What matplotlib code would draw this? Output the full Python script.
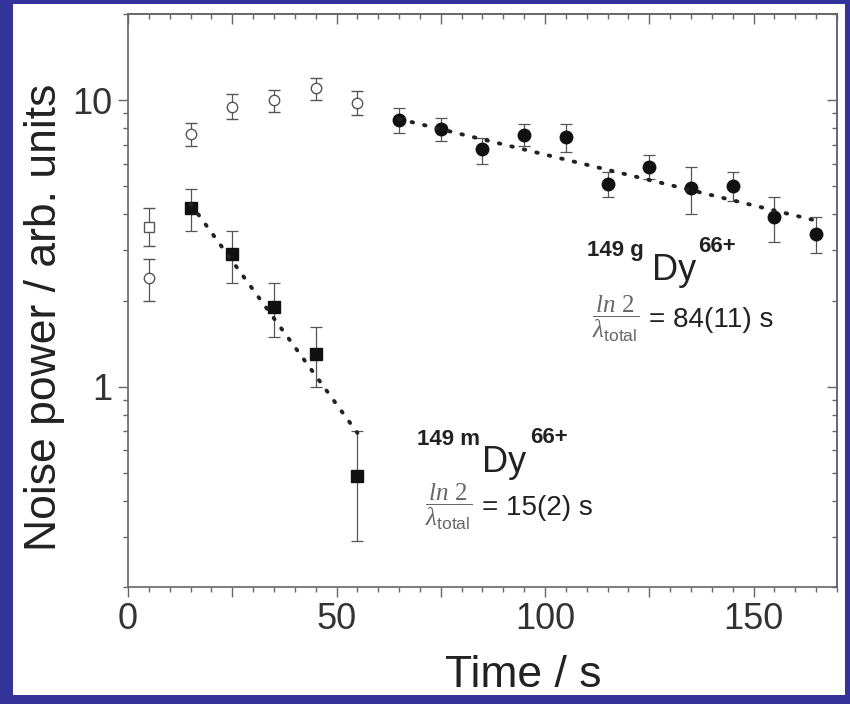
import matplotlib
matplotlib.use("Agg")
import matplotlib.pyplot as plt
from matplotlib.patches import Rectangle
from matplotlib.ticker import MultipleLocator, FixedLocator, LogLocator, FuncFormatter, NullFormatter
import numpy as np

plt.rcParams['font.family'] = ['Liberation Sans', 'DejaVu Sans']
plt.rcParams['mathtext.rm'] = 'Liberation Serif'
plt.rcParams['mathtext.it'] = 'Liberation Serif:italic'
plt.rcParams['mathtext.sf'] = 'Liberation Sans'

# open square (t = 5 s)
t_open_sq = [5]
y_open_sq = [3.6]
lo_open_sq = [3.1]
hi_open_sq = [4.2]

# open circles (build-up)
t_open_c = [5, 15, 25, 35, 45, 55]
y_open_c = [2.4, 7.6, 9.5, 10.0, 11.0, 9.8]
lo_open_c = [2.0, 6.9, 8.6, 9.1, 10.0, 8.9]
hi_open_c = [2.8, 8.3, 10.5, 10.9, 12.0, 10.75]

# 149m Dy66+ (filled squares)
t_m = [15, 25, 35, 45, 55]
y_m = [4.2, 2.9, 1.9, 1.3, 0.49]
lo_m = [3.5, 2.3, 1.49, 1.0, 0.29]
hi_m = [4.9, 3.5, 2.3, 1.61, 0.70]

# 149g Dy66+ (filled circles)
t_g = [65, 75, 85, 95, 105, 115, 125, 135, 145, 155, 165]
y_g = [8.5, 7.93, 6.75, 7.55, 7.43, 5.1, 5.85, 4.93, 5.01, 3.91, 3.41]
lo_g = [7.67, 7.2, 6.0, 6.9, 6.6, 4.6, 5.3, 4.0, 4.45, 3.2, 2.93]
hi_g = [9.4, 8.65, 7.4, 8.25, 8.25, 5.6, 6.45, 5.85, 5.6, 4.6, 3.9]

# exponential fits (straight on log axis), end points
fit_m_t = [15, 55]
fit_m_y = [4.35, 0.69]
fit_g_t = [65, 165]
fit_g_y = [8.6, 3.8]

W, H = 850, 704
fig = plt.figure(figsize=(W / 100, H / 100), dpi=100, facecolor='#333399')
fig.add_artist(Rectangle((13 / W, 1 - 695 / H), (845 - 13) / W, (695 - 4) / H,
                         transform=fig.transFigure, facecolor='white', edgecolor='none', zorder=0))

ax = fig.add_axes([128 / W, 1 - 587 / H, (837 - 128) / W, (587 - 14) / H])
ax.set_facecolor('white')


def fxy(px, py):
    return px / W, 1 - py / H


def err(y, lo, hi):
    return [np.subtract(y, lo), np.subtract(hi, y)]


eb = dict(ecolor='#555555', elinewidth=0.9, capsize=4.5, capthick=0.9, linestyle='none')

ax.errorbar(t_open_sq, y_open_sq, yerr=err(y_open_sq, lo_open_sq, hi_open_sq), marker='s', ms=7,
            mfc='white', mec='#555555', mew=1, **eb)
ax.errorbar(t_open_c, y_open_c, yerr=err(y_open_c, lo_open_c, hi_open_c), marker='o', ms=7.5,
            mfc='white', mec='#555555', mew=1, **eb)
ax.errorbar(t_m, y_m, yerr=err(y_m, lo_m, hi_m), marker='s', ms=8.5,
            mfc='#111111', mec='#111111', **eb)
ax.errorbar(t_g, y_g, yerr=err(y_g, lo_g, hi_g), marker='o', ms=9,
            mfc='#111111', mec='#111111', **eb)

for ft, fy in [(fit_m_t, fit_m_y), (fit_g_t, fit_g_y)]:
    ax.plot(ft, fy, color='#222222', lw=2.8, linestyle=(0, (0.4, 2.9)),
            dash_capstyle='round', zorder=3)

ax.set_xlim(0, 170)
ax.set_yscale('log')
ax.set_ylim(0.2, 20)

ax.xaxis.set_major_locator(MultipleLocator(25))
ax.xaxis.set_minor_locator(MultipleLocator(5))
ax.xaxis.set_major_formatter(FuncFormatter(lambda v, p: f'{v:.0f}' if v % 50 == 0 else ''))
ax.yaxis.set_major_locator(FixedLocator([1, 10]))
ax.yaxis.set_minor_locator(LogLocator(subs=np.arange(2, 10)))
ax.yaxis.set_major_formatter(FuncFormatter(lambda v, p: f'{v:g}'))
ax.yaxis.set_minor_formatter(NullFormatter())

ax.tick_params(which='both', direction='out', color='#666666', width=1,
               labelsize=26, labelcolor='#333333', top=False, right=False)
ax.tick_params(which='major', length=7, pad=4)
ax.tick_params(which='minor', length=3.5)
for s in ax.spines.values():
    s.set_color('#666666')
    s.set_linewidth(1.2)

# mirrored axes with inward ticks
sx = ax.secondary_xaxis('top')
sx.xaxis.set_major_locator(MultipleLocator(25))
sx.xaxis.set_minor_locator(MultipleLocator(5))
sx.tick_params(which='both', direction='in', color='#666666', width=1, labeltop=False)
sx.tick_params(which='major', length=7)
sx.tick_params(which='minor', length=3.5)
sx.spines['top'].set_color('#666666')
sx.spines['top'].set_linewidth(1.2)

sy = ax.secondary_yaxis('right')
sy.yaxis.set_major_locator(FixedLocator([1, 10]))
sy.yaxis.set_minor_locator(LogLocator(subs=np.arange(2, 10)))
sy.yaxis.set_minor_formatter(NullFormatter())
sy.tick_params(which='both', direction='in', color='#666666', width=1, labelright=False)
sy.tick_params(which='major', length=7)
sy.tick_params(which='minor', length=3.5)
sy.spines['right'].set_color('#666666')
sy.spines['right'].set_linewidth(1.2)

ax.set_xlabel('Time / s', fontsize=32, color='#222222', va='center')
ax.xaxis.set_label_coords(0.557, -0.154)
ax.set_ylabel('Noise power / arb. units', fontsize=32, color='#222222', va='center')
ax.yaxis.set_label_coords(-0.118, 0.47)

# isotope labels
frac = r'$\dfrac{\mathit{ln\ 2}}{\lambda_{\mathsf{total}}}$'
for (x0, yb), iso, dy_dx, dy_b, sup_dx, sup_b, fc, eq in [
        ((417, 445), '149 m', 65, 472, 113, 443, (449, 507), '= 15(2) s'),
        ((587, 256), '149 g', 65, 280, 111, 252, (616, 319), '= 84(11) s')]:
    fig.text(*fxy(x0, yb), iso, fontsize=16, fontweight='bold', color='#222222', va='baseline')
    fig.text(*fxy(x0 + dy_dx, dy_b), 'Dy', fontsize=26, color='#222222', va='baseline')
    fig.text(*fxy(x0 + sup_dx, sup_b), '66+', fontsize=16, fontweight='bold', color='#222222', va='baseline')
    fig.text(*fxy(*fc), frac, fontsize=18, math_fontfamily='custom', color='#666666',
             ha='center', va='center')
    fig.text(*fxy(fc[0] + 33, fc[1] + 1), eq, fontsize=20, color='#222222', va='center')

fig.savefig('out.png', dpi=100, facecolor=fig.get_facecolor())
